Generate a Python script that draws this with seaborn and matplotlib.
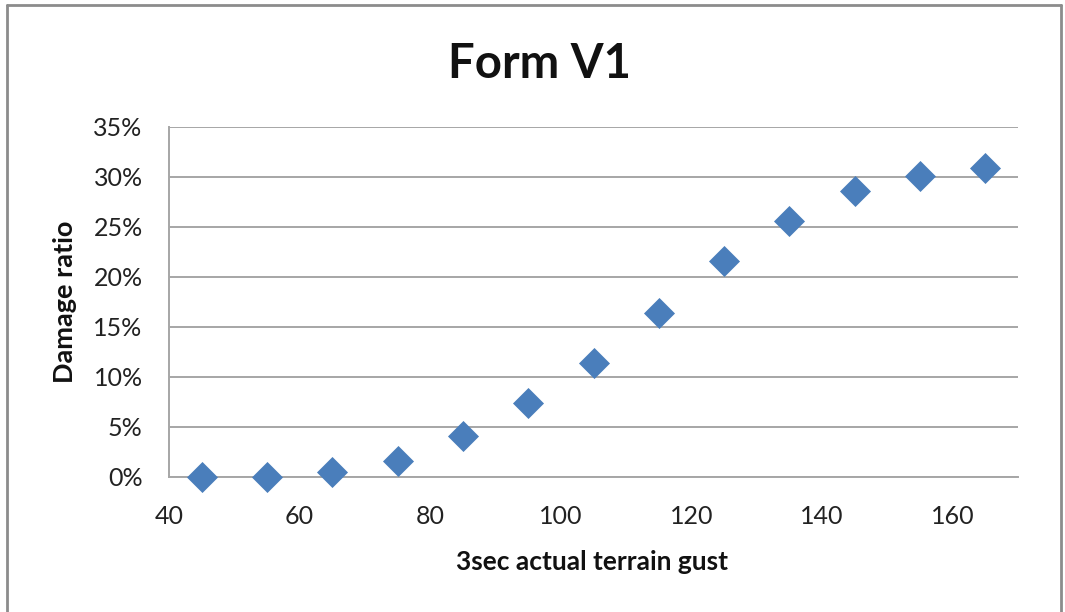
import matplotlib
matplotlib.use("Agg")
import matplotlib.pyplot as plt
from matplotlib.ticker import PercentFormatter
from matplotlib.lines import Line2D
import seaborn as sns
import pandas as pd

# Gust speed (3-second, actual terrain) and damage ratio for form V1
gust = [45, 55, 65, 75, 85, 95, 105, 115, 125, 135, 145, 155, 165]
damage_ratio = [0.000, 0.000, 0.005, 0.0155, 0.041, 0.074, 0.114, 0.164, 0.216, 0.256, 0.286, 0.301, 0.309]
x_ticks = [40, 60, 80, 100, 120, 140, 160]
y_ticks = [0.00, 0.05, 0.10, 0.15, 0.20, 0.25, 0.30, 0.35]

df = pd.DataFrame({"gust": gust, "ratio": damage_ratio})

sns.set_theme(style="white")
plt.rcParams["font.family"] = ["Lato", "DejaVu Sans"]

fig = plt.figure(figsize=(10.65, 6.12), dpi=100)
ax = fig.add_axes([0.1587, 0.2206, 0.7972, 0.5719])

blue = "#4A7EBB"
sns.scatterplot(data=df, x="gust", y="ratio", marker="D", s=250,
                color=blue, edgecolor=blue, linewidth=0, ax=ax,
                zorder=3, clip_on=False)

ax.set_xlim(40, 170)
ax.set_ylim(0, 0.35)
ax.set_xticks(x_ticks)
ax.set_yticks(y_ticks)
ax.yaxis.set_major_formatter(PercentFormatter(1.0, decimals=0))
ax.tick_params(axis="both", labelsize=18, colors="#222222", length=0)
ax.tick_params(axis="y", pad=19)
ax.tick_params(axis="x", pad=20)

ax.grid(axis="y", color="#A6A6A6", linewidth=1.4)
ax.set_axisbelow(True)
for side in ("top", "right"):
    ax.spines[side].set_visible(False)
for side in ("left", "bottom"):
    ax.spines[side].set_color("#A6A6A6")
    ax.spines[side].set_linewidth(1.4)

ax.set_xlabel("3sec actual terrain gust", fontsize=19, fontweight="bold",
              color="#111111")
ax.set_ylabel("Damage ratio", fontsize=19.5, fontweight="bold",
              color="#111111")
ax.xaxis.set_label_coords(0.498, -0.21)
ax.yaxis.set_label_coords(-0.108, 0.5)
fig.suptitle("Form V1", x=0.507, y=0.932, fontsize=34, fontweight="bold",
             color="#111111")

# Chart area frame
frame_kw = dict(color="#8C8C8C", linewidth=2, transform=fig.transFigure)
fig.add_artist(Line2D([0.0066, 0.0066], [0.0, 0.992], **frame_kw))
fig.add_artist(Line2D([0.0066, 0.996], [0.992, 0.992], **frame_kw))
fig.add_artist(Line2D([0.996, 0.996], [0.0, 0.992], **frame_kw))

fig.savefig("out.png", dpi=100)
